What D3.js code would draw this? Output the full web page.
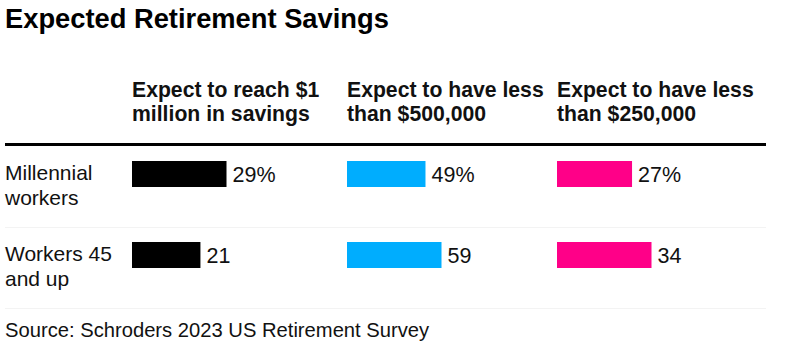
<!DOCTYPE html>
<html>
<head>
<meta charset="utf-8">
<script src="https://cdn.jsdelivr.net/npm/d3@7"></script>
<style>
  html, body { margin: 0; padding: 0; background: #fff; }
  svg { display: block; font-family: "Liberation Sans", Arial, sans-serif; }
</style>
</head>
<body>
<svg id="chart" width="785" height="356"></svg>
<script>
// ---- data ----
const title = "Expected Retirement Savings";
const source = "Source: Schroders 2023 US Retirement Survey";
const rows = ["Millennial workers", "Workers 45 and up"];
const rowLabelLines = [["Millennial", "workers"], ["Workers 45", "and up"]];
const columns = ["Expect to reach $1 million in savings", "Expect to have less than $500,000", "Expect to have less than $250,000"];
const columnLabelLines = [["Expect to reach $1", "million in savings"], ["Expect to have less", "than $500,000"], ["Expect to have less", "than $250,000"]];
const reachMillion = [29, 21];
const lessThan500k = [49, 59];
const lessThan250k = [27, 34];
const valueLabels = [["29%", "21"], ["49%", "59"], ["27%", "34"]];
const colors = ["#000000", "#00adfe", "#ff0088"];

// ---- layout ----
const svg = d3.select("#chart");
const left = 5, right = 766;
const colX = [132, 347, 557];
const barMaxW = 94.5;
const series = [reachMillion, lessThan500k, lessThan250k];

svg.append("text").attr("x", 5).attr("y", 28)
  .attr("font-size", 27.3).attr("font-weight", "bold").attr("fill", "#000")
  .text(title);

// column headers
columnLabelLines.forEach((lines, i) => {
  const t = svg.append("text").attr("x", colX[i]).attr("y", 96.5)
    .attr("font-size", 21.2).attr("font-weight", "bold").attr("fill", "#111");
  lines.forEach((l, j) => t.append("tspan").attr("x", colX[i]).attr("dy", j === 0 ? 0 : 24).text(l));
});

svg.append("rect").attr("x", left).attr("y", 143).attr("width", right - left).attr("height", 3).attr("fill", "#000");

const y = d3.scaleBand().domain(rows).range([146, 308]).padding(0);

// separators
rows.forEach(r => {
  svg.append("line").attr("x1", left).attr("x2", right)
    .attr("y1", y(r) + y.bandwidth() + 0.5).attr("y2", y(r) + y.bandwidth() + 0.5)
    .attr("stroke", "#f3f3f3").attr("stroke-width", 1);
});

// row labels
rows.forEach((r, i) => {
  const t = svg.append("text").attr("x", left).attr("y", y(r) + 34)
    .attr("font-size", 21).attr("fill", "#111");
  rowLabelLines[i].forEach((l, j) => t.append("tspan").attr("x", left).attr("dy", j === 0 ? 0 : 24.5).text(l));
});

// bars
series.forEach((vals, c) => {
  const x = d3.scaleLinear().domain([0, d3.max(vals)]).range([colX[c], colX[c] + barMaxW]);
  const g = svg.append("g");
  g.selectAll("rect").data(vals).join("rect")
    .attr("x", x(0)).attr("y", (d, i) => y(rows[i]) + 15)
    .attr("width", d => x(d) - x(0)).attr("height", 26)
    .attr("fill", colors[c]);
  g.selectAll("text").data(vals).join("text")
    .attr("x", d => x(d) + 6).attr("y", (d, i) => y(rows[i]) + 36)
    .attr("font-size", 21.5).attr("fill", "#111")
    .text((d, i) => valueLabels[c][i]);
});

svg.append("text").attr("x", 5).attr("y", 337)
  .attr("font-size", 20.2).attr("fill", "#111").text(source);
</script>
</body>
</html>
